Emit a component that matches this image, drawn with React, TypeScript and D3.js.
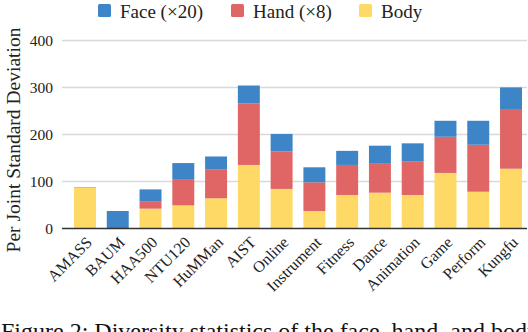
import React, { useEffect, useRef } from "react";
import * as d3 from "d3";

const categories = [
  "AMASS", "BAUM", "HAA500", "NTU120", "HuMMan", "AIST", "Online",
  "Instrument", "Fitness", "Dance", "Animation", "Game", "Perform", "Kungfu",
];
const bodyValues = [87, 0, 42, 49, 64, 135, 84, 37, 71, 76, 71, 118, 78, 127];
const handValues = [1, 0, 16, 56, 62, 131, 80, 61, 64, 63, 71, 77, 100, 127];
const faceValues = [0, 37, 25, 34, 27, 38, 37, 32, 30, 37, 39, 34, 51, 46];
const yTicks = [0, 100, 200, 300, 400];

const seriesKeys = ["body", "hand", "face"];
const seriesColors = { body: "#FFD966", hand: "#E06666", face: "#3D85C6" };
const legendItems = [
  { key: "face", label: "Face (\u00d720)" },
  { key: "hand", label: "Hand (\u00d78)" },
  { key: "body", label: "Body" },
];

const width = 528;
const height = 332;
const font = "'Liberation Serif', 'Times New Roman', serif";

export default function App() {
  const svgRef = useRef<SVGSVGElement>(null);

  useEffect(() => {
    const svg = d3.select(svgRef.current);
    svg.selectAll("*").remove();

    const rows = categories.map((c, i) => ({
      name: c,
      body: bodyValues[i],
      hand: handValues[i],
      face: faceValues[i],
    }));

    const x = d3
      .scaleBand()
      .domain(categories)
      .range([68.6, 527.4])
      .paddingInner(0.33)
      .paddingOuter(0.165);

    const y = d3.scaleLinear().domain([0, 400]).range([228.4, 40.4]);

    // grid
    svg
      .append("g")
      .selectAll("line")
      .data(yTicks.slice(1))
      .join("line")
      .attr("x1", 62)
      .attr("x2", 527)
      .attr("y1", (d) => y(d))
      .attr("y2", (d) => y(d))
      .attr("stroke", "#d9d9d9")
      .attr("stroke-width", 1.5);

    // y tick labels
    svg
      .append("g")
      .selectAll("text")
      .data(yTicks)
      .join("text")
      .attr("x", 53)
      .attr("y", (d) => y(d))
      .attr("dy", "0.35em")
      .attr("text-anchor", "end")
      .attr("font-family", font)
      .attr("font-size", 15.5)
      .attr("fill", "#222")
      .text((d) => d);

    // stacked bars
    const stacked = d3.stack().keys(seriesKeys)(rows as any);
    svg
      .append("g")
      .selectAll("g")
      .data(stacked)
      .join("g")
      .attr("fill", (s) => seriesColors[s.key])
      .selectAll("rect")
      .data((s) => s)
      .join("rect")
      .attr("x", (d) => x(d.data.name as string)!)
      .attr("width", x.bandwidth())
      .attr("y", (d) => y(d[1]))
      .attr("height", (d) => Math.max(0, y(d[0]) - y(d[1])));

    // baseline
    svg
      .append("line")
      .attr("x1", 62)
      .attr("x2", 527)
      .attr("y1", y(0))
      .attr("y2", y(0))
      .attr("stroke", "#333")
      .attr("stroke-width", 1.5);

    // x labels
    svg
      .append("g")
      .selectAll("text")
      .data(categories)
      .join("text")
      .attr(
        "transform",
        (d) => `translate(${x(d)! + x.bandwidth() / 2 + 8},${y(0) + 15}) rotate(-45)`
      )
      .attr("text-anchor", "end")
      .attr("font-family", font)
      .attr("font-size", 16)
      .attr("fill", "#222")
      .text((d) => d);

    // y label
    svg
      .append("text")
      .attr("transform", `translate(19.5,140) rotate(-90)`)
      .attr("text-anchor", "middle")
      .attr("font-family", font)
      .attr("font-size", 19.5)
      .attr("fill", "#222")
      .text("Per Joint Standard Deviation");

    // legend
    const legendX = [98, 231, 359];
    const lg = svg
      .append("g")
      .selectAll("g")
      .data(legendItems)
      .join("g")
      .attr("transform", (d, i) => `translate(${legendX[i]},4)`);
    lg.append("rect")
      .attr("width", 13)
      .attr("height", 13)
      .attr("rx", 1.5)
      .attr("fill", (d) => seriesColors[d.key]);
    lg.append("text")
      .attr("x", 22)
      .attr("y", 14)
      .attr("font-family", font)
      .attr("font-size", 19)
      .attr("fill", "#222")
      .text((d) => d.label);

    // caption (cropped at bottom, as in the source image)
    svg
      .append("text")
      .attr("x", 1)
      .attr("y", 339)
      .attr("font-family", font)
      .attr("font-size", 24)
      .attr("fill", "#111")
      .text("Figure 2: Diversity statistics of the face, hand, and body");
  }, []);

  return (
    <svg
      ref={svgRef}
      width={width}
      height={height}
      style={{ position: "absolute", left: 0, top: 0, background: "#fff" }}
    />
  );
}
